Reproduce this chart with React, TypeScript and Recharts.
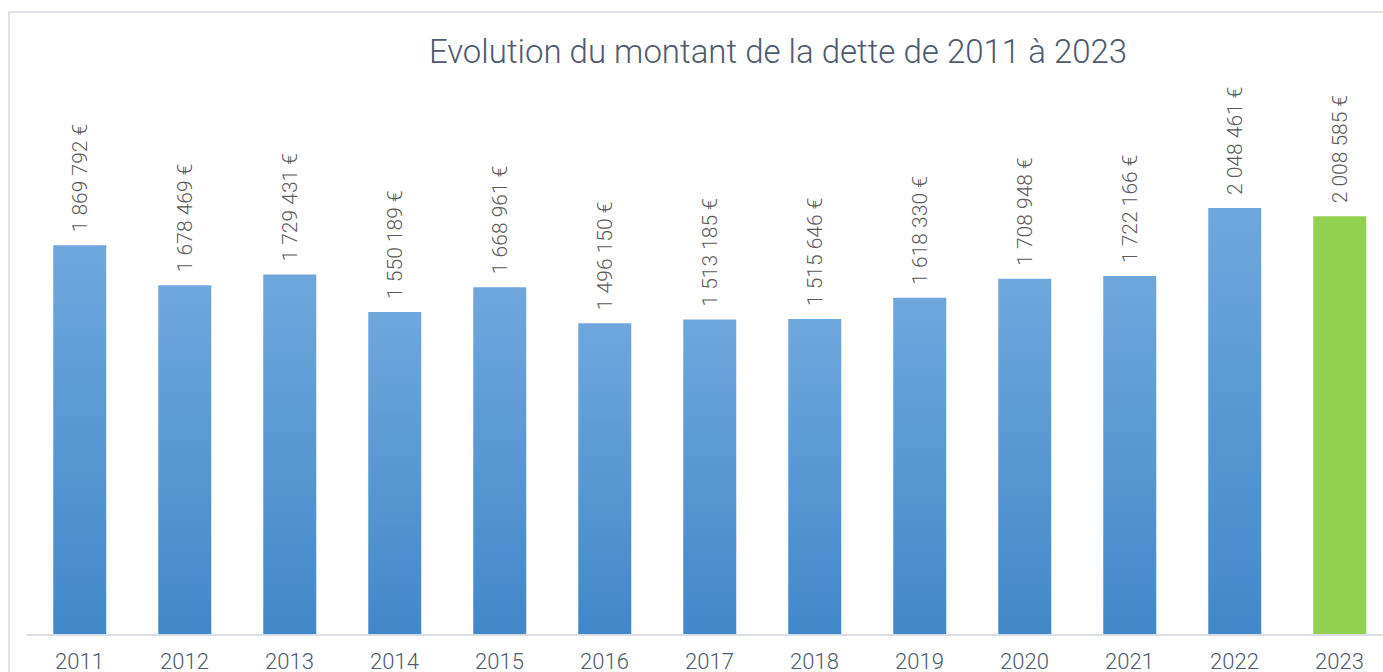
import { BarChart, Bar, XAxis, YAxis, Cell, LabelList } from 'recharts';

const years = ['2011', '2012', '2013', '2014', '2015', '2016', '2017', '2018', '2019', '2020', '2021', '2022', '2023'];
const debt = [1869792, 1678469, 1729431, 1550189, 1668961, 1496150, 1513185, 1515646, 1618330, 1708948, 1722166, 2048461, 2008585];
const highlightYear = '2023';

const data = years.map((y, i) => ({ year: y, debt: debt[i] }));

const fmt = (v: number) => v.toLocaleString('fr-FR').replace(/[\u202f\u00a0]/g, ' ') + ' €';

const FONT = 'Roboto, "Open Sans", sans-serif';

// rotated value label above each bar, reads bottom-to-top
function RotLabel(props: any) {
  const { x, y, width, value } = props;
  const cx = x + width / 2 + 7.5;
  const cy = y - 13;
  return (
    <text x={cx} y={cy} transform={`rotate(-90, ${cx}, ${cy})`} textAnchor="start"
      fontFamily={FONT} fontWeight={300} fontSize={21} fill="#5a5a5a">
      {fmt(value)}
    </text>
  );
}

function YearTick(props: any) {
  const { x, y, payload } = props;
  return (
    <text x={x} y={y + 26} textAnchor="middle" fontFamily={FONT} fontWeight={300} fontSize={22} fill="#4e5a6e">
      {payload.value}
    </text>
  );
}

export default function App() {
  return (
    <div style={{ position: 'fixed', left: 0, top: 0, width: 1383, height: 672, overflow: 'hidden', background: '#fff' }}>
      <div style={{ position: 'absolute', left: 8, top: 11, width: 1500, height: 800, borderLeft: '2px solid #dfe3e8', borderTop: '2px solid #dfe3e8' }} />
      <div style={{ position: 'absolute', left: 0, width: 1556, top: 33, textAlign: 'center', fontFamily: FONT, fontWeight: 300, fontSize: 33, lineHeight: '38px', color: '#4e5a6e', whiteSpace: 'nowrap' }}>
        Evolution du montant de la dette de 2011 à 2023
      </div>
      <div style={{ position: 'absolute', left: 0, top: 0 }}>
        <BarChart width={1420} height={700} data={data} margin={{ top: 41, right: 28, left: 27, bottom: 25 }} barCategoryGap="25%">
          <defs>
            <linearGradient id="blueGrad" x1="0" y1="0" x2="0" y2="1">
              <stop offset="0%" stopColor="#6fa7dd" />
              <stop offset="100%" stopColor="#4188c9" />
            </linearGradient>
          </defs>
          <XAxis dataKey="year" height={40} axisLine={{ stroke: '#d9dee6', strokeWidth: 2 }} tickLine={false} tick={<YearTick />} interval={0} />
          <YAxis hide domain={[0, 2850000]} />
          <Bar dataKey="debt" isAnimationActive={false}>
            {data.map((d) => (
              <Cell key={d.year} fill={d.year === highlightYear ? '#92d050' : 'url(#blueGrad)'} />
            ))}
            <LabelList dataKey="debt" content={<RotLabel />} />
          </Bar>
        </BarChart>
      </div>
    </div>
  );
}
